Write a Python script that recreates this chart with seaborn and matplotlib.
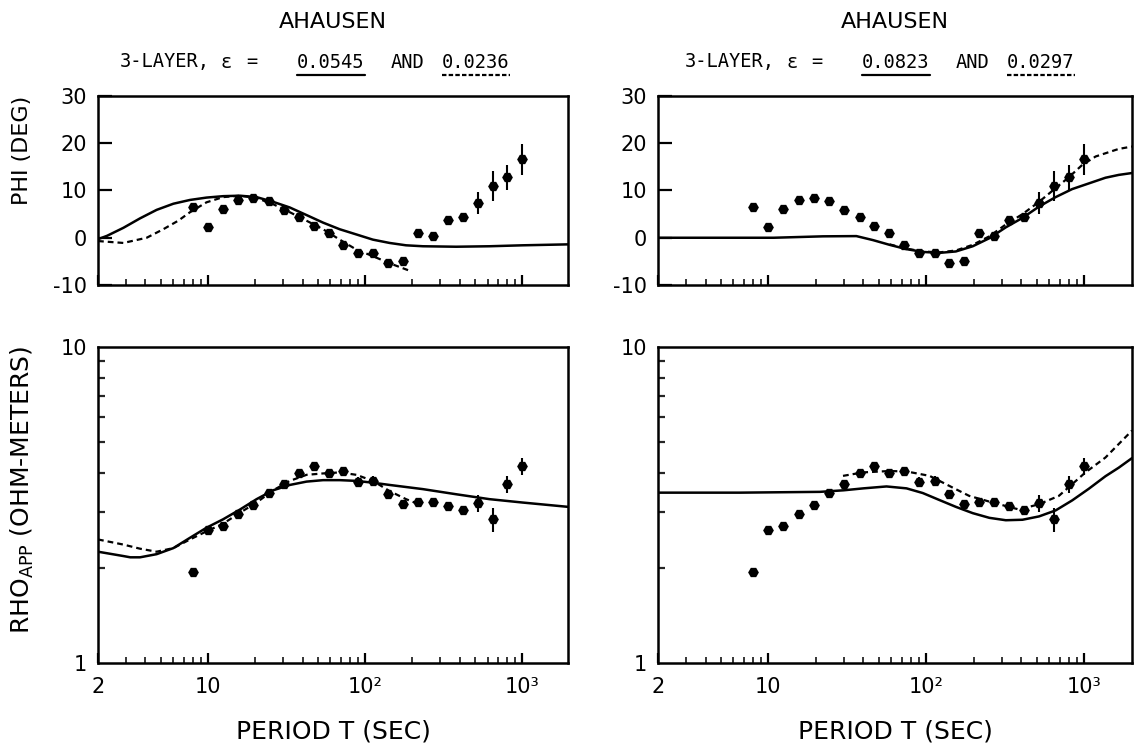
import matplotlib
matplotlib.use("Agg")
import matplotlib.pyplot as plt
from matplotlib.lines import Line2D
from matplotlib.ticker import FixedLocator, NullFormatter
import seaborn as sns

# observed periods (s), same soundings in every panel
period = [8.0, 10.0, 12.4, 15.6, 19.4, 24.3, 30.3, 37.8, 47.0, 58.5, 72.8, 90.5,
          113, 140, 174, 217, 270, 336, 418, 520, 646, 804, 1000]
phi_obs = [6.5, 2.3, 6.1, 8.0, 8.5, 7.8, 5.8, 4.4, 2.5, 1.0, -1.5, -3.3,
           -3.3, -5.3, -5.0, 1.0, 0.3, 3.8, 4.4, 7.4, 11.0, 12.8, 16.6]
phi_err = [0, 0, 0, 0, 0, 0, 0, 0, 0, 0, 0, 1.0,
           1.0, 0, 0, 0, 0, 0, 0.6, 2.3, 3.2, 2.6, 3.3]
rho_obs = [1.94, 2.63, 2.72, 2.97, 3.16, 3.45, 3.69, 4.00, 4.20, 3.98, 4.04, 3.75,
           3.78, 3.43, 3.18, 3.24, 3.24, 3.15, 3.04, 3.20, 2.85, 3.68, 4.20]
rho_err = [0, 0, 0, 0, 0, 0, 0, 0, 0, 0, 0, 0.12,
           0.12, 0, 0, 0, 0, 0, 0, 0.2, 0.25, 0.22, 0.27]

# model curves, left column (eps = 0.0545 / 0.0236)
tl_solid_T = [2.0, 2.28, 2.9, 3.7, 4.72, 6.03, 7.69, 9.8, 12.5, 16.0, 20.4, 26.0, 33.2,
              42.4, 54.0, 68.9, 87.9, 112, 143, 182, 233, 379, 617, 1000, 1950]
tl_solid_phi = [-0.3, 0.4, 2.1, 4.1, 5.9, 7.2, 8.0, 8.5, 8.8, 8.9, 8.6, 7.6, 6.4,
                4.8, 3.2, 1.8, 0.7, -0.4, -1.1, -1.6, -1.8, -1.9, -1.8, -1.6, -1.4]
tl_dash_T = [2.0, 2.9, 4.08, 5.2, 6.47, 7.69, 9.8, 12.5, 16.0, 20.4, 26.0, 33.2,
             42.4, 54.0, 68.9, 87.9, 112, 143, 196]
tl_dash_phi = [-0.7, -1.1, 0.0, 1.8, 3.6, 5.4, 7.5, 8.6, 8.9, 8.4, 7.1, 5.4,
               3.6, 1.8, -0.4, -2.5, -3.9, -5.4, -7.1]
bl_solid_T = [2.0, 2.9, 3.21, 3.7, 4.72, 6.03, 7.69, 9.8, 12.5, 16.0, 20.4, 26.0,
              33.2, 42.4, 54.0, 68.9, 87.9, 112, 143, 233, 379, 617, 1000, 1950]
bl_solid_rho = [2.25, 2.18, 2.16, 2.16, 2.21, 2.31, 2.49, 2.68, 2.85, 3.06, 3.30, 3.52,
                3.66, 3.75, 3.79, 3.79, 3.77, 3.72, 3.66, 3.55, 3.42, 3.30, 3.22, 3.12]
bl_dash_T = [2.0, 2.9, 3.7, 4.72, 6.03, 7.69, 9.8, 12.5, 16.0, 20.4, 26.0, 33.2,
             42.4, 54.0, 68.9, 87.9, 112, 143, 182, 220]
bl_dash_rho = [2.46, 2.37, 2.30, 2.25, 2.31, 2.46, 2.61, 2.76, 2.99, 3.22, 3.52, 3.77,
               3.94, 3.98, 4.01, 3.94, 3.77, 3.50, 3.30, 3.18]

# model curves, right column (eps = 0.0823 / 0.0297)
tr_solid_T = [2.0, 5.0, 10.8, 22.2, 36.1, 46.0, 58.6, 74.7, 95.1, 121, 154, 197,
              251, 319, 407, 518, 660, 840, 1071, 1365, 1656, 2010]
tr_solid_phi = [0.0, 0.0, 0.0, 0.3, 0.35, -0.5, -1.5, -2.4, -3.0, -3.2, -2.9, -1.8,
                -0.1, 2.2, 4.2, 6.6, 8.6, 10.3, 11.5, 12.7, 13.3, 13.7]
tr_dash_T = [58.6, 74.7, 95.1, 121, 154, 197, 251, 319, 407, 518, 660, 800,
             972, 1183, 1656, 2010]
tr_dash_phi = [-1.4, -2.3, -2.9, -3.1, -2.7, -1.5, 0.3, 2.8, 5.0, 7.6, 10.5, 12.8,
               15.4, 17.2, 18.8, 19.3]
br_solid_T = [2.0, 6.6, 21.2, 30.0, 40.0, 56.0, 75.0, 95.1, 121, 154, 197, 251, 319,
              407, 518, 660, 840, 1071, 1365, 1656, 2010]
br_solid_rho = [3.46, 3.46, 3.48, 3.52, 3.57, 3.62, 3.57, 3.45, 3.28, 3.12, 2.98, 2.88,
                2.83, 2.84, 2.91, 3.04, 3.27, 3.56, 3.90, 4.15, 4.45]
br_dash_T = [29.7, 39.7, 58.0, 74.7, 105, 147, 187, 263, 387, 518, 692, 1020, 1365, 2010]
br_dash_rho = [3.91, 4.01, 4.05, 4.04, 3.91, 3.59, 3.38, 3.22, 3.06, 3.18, 3.38, 4.01,
               4.47, 5.44]

titles = ["AHAUSEN", "AHAUSEN"]
eps_fit = [("0.0545", "0.0236"), ("0.0823", "0.0297")]
phi_ticks = [-10, 0, 10, 20, 30]
x_major = [2, 10, 100, 1000]
x_major_labels = ["2", "10", "10²", "10³"]
x_minor = [3, 4, 5, 6, 7, 8, 9, 20, 30, 40, 50, 60, 70, 80, 90,
           200, 300, 400, 500, 600, 700, 800, 900]

sns.set_theme(style="white")
plt.rcParams["font.family"] = ["DejaVu Sans"]
plt.rcParams["mathtext.default"] = "regular"
plt.rcParams["text.color"] = "black"
plt.rcParams["axes.labelcolor"] = "black"

W, H = 1134, 746
fig = plt.figure(figsize=(W / 100, H / 100), dpi=100)


def px_axes(x0, x1, y0, y1):
    return fig.add_axes([x0 / W, 1 - y1 / H, (x1 - x0) / W, (y1 - y0) / H])


def style_axes(ax, xmax, bottom_labels):
    ax.set_xscale("log")
    ax.set_xlim(2, xmax)
    for s in ax.spines.values():
        s.set_linewidth(1.8)
        s.set_color("black")
    ax.xaxis.set_major_locator(FixedLocator(x_major))
    ax.xaxis.set_minor_locator(FixedLocator(x_minor))
    ax.xaxis.set_minor_formatter(NullFormatter())
    if bottom_labels:
        ax.set_xticklabels(x_major_labels)
    else:
        ax.set_xticklabels([])
    ax.tick_params(axis="x", which="major", direction="in", length=7, width=1.6,
                   bottom=True, top=False, labelsize=15, pad=10, colors="black")
    ax.tick_params(axis="x", which="minor", direction="in", length=4, width=1.3,
                   bottom=True, top=False)
    ax.set_xlabel("")
    ax.set_ylabel("")


def draw_model(ax, sT, sv, dT, dv):
    sns.lineplot(x=sT, y=sv, ax=ax, color="black", linewidth=1.8, sort=False, estimator=None)
    sns.lineplot(x=dT, y=dv, ax=ax, color="black", linewidth=1.6, sort=False,
                 estimator=None, linestyle=(0, (2.6, 1.8)))


def draw_obs(ax, y, yerr):
    ax.errorbar(period, y, yerr=yerr, fmt="none", ecolor="black", elinewidth=1.5, capsize=0)
    sns.scatterplot(x=period, y=y, ax=ax, marker="H", s=60, color="black",
                    edgecolor="black", linewidth=0, zorder=4)


panels = [
    (98, 568, 1950, tl_solid_T, tl_solid_phi, tl_dash_T, tl_dash_phi,
     bl_solid_T, bl_solid_rho, bl_dash_T, bl_dash_rho),
    (658, 1132, 2010, tr_solid_T, tr_solid_phi, tr_dash_T, tr_dash_phi,
     br_solid_T, br_solid_rho, br_dash_T, br_dash_rho),
]

underlined = []
mono = "DejaVu Sans Mono"
sub_size = 13.5
for i, (x0, x1, xmax, a, b, c, d, e, f, g, h) in enumerate(panels):
    # phase
    ax = px_axes(x0, x1, 96, 285)
    ax.set_xscale("log")
    draw_model(ax, a, b, c, d)
    draw_obs(ax, phi_obs, phi_err)
    style_axes(ax, xmax, False)
    ax.set_ylim(-10, 30)
    ax.set_yticks(phi_ticks)
    ax.set_yticklabels([str(t) for t in phi_ticks])
    ax.tick_params(axis="y", direction="in", length=10, width=1.6, left=True,
                   right=False, labelsize=15, pad=8, colors="black")

    # apparent resistivity
    ax2 = px_axes(x0, x1, 347, 663)
    ax2.set_xscale("log")
    ax2.set_yscale("log")
    draw_model(ax2, e, f, g, h)
    draw_obs(ax2, rho_obs, rho_err)
    style_axes(ax2, xmax, True)
    ax2.set_ylim(1, 10)
    ax2.yaxis.set_major_locator(FixedLocator([1, 10]))
    ax2.set_yticklabels(["1", "10"])
    ax2.yaxis.set_minor_locator(FixedLocator([2, 3, 4, 5, 6, 7, 8, 9]))
    ax2.yaxis.set_minor_formatter(NullFormatter())
    ax2.tick_params(axis="y", which="major", direction="in", length=0, left=True,
                    right=False, labelsize=15, pad=8, colors="black")
    ax2.tick_params(axis="y", which="minor", direction="in", length=5, width=1.6,
                    left=True, right=False)

    cx = (x0 + x1) / 2
    fig.text(cx / W, 1 - 22 / H, titles[i], ha="center", va="center", fontsize=16)
    base = 120 + 565 * i
    y_sub = 1 - 62 / H
    fig.text(base / W, y_sub, "3-LAYER,", ha="left", va="center", fontsize=sub_size, family=mono)
    fig.text((base + 101) / W, y_sub, "ε", ha="left", va="center", fontsize=sub_size, family=mono)
    fig.text((base + 126) / W, y_sub, "=", ha="left", va="center", fontsize=sub_size, family=mono)
    t1 = fig.text((base + 177) / W, y_sub, eps_fit[i][0], ha="left", va="center",
                  fontsize=sub_size, family=mono)
    fig.text((base + 271) / W, y_sub, "AND", ha="left", va="center", fontsize=sub_size, family=mono)
    t2 = fig.text((base + 322) / W, y_sub, eps_fit[i][1], ha="left", va="center",
                  fontsize=sub_size, family=mono)
    underlined.append((t1, "-"))
    underlined.append((t2, (0, (2, 1))))

    fig.text(cx / W, 1 - 732 / H, "PERIOD T (SEC)", ha="center", va="center", fontsize=18)

fig.text(22 / W, 1 - 150 / H, "PHI (DEG)", rotation=90, ha="center", va="center", fontsize=16)
fig.text(22 / W, 1 - 490 / H, "RHO$_{APP}$ (OHM-METERS)", rotation=90,
         ha="center", va="center", fontsize=18)

# underline the two epsilon values (solid for the first fit, dashed for the second)
fig.canvas.draw()
renderer = fig.canvas.get_renderer()
for t, ls in underlined:
    bb = t.get_window_extent(renderer)
    yl = (bb.y0 - 3) / H
    fig.add_artist(Line2D([bb.x0 / W, bb.x1 / W], [yl, yl], transform=fig.transFigure,
                          color="black", linewidth=1.6, linestyle=ls))

fig.savefig("out.png", dpi=100)
